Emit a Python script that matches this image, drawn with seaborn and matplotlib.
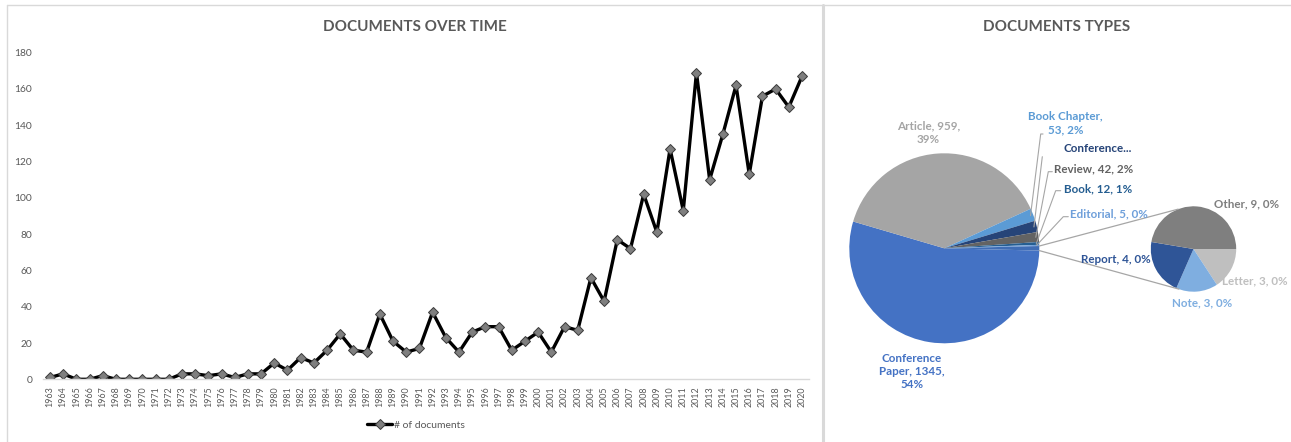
import numpy as np
import pandas as pd
import matplotlib
matplotlib.use("Agg")
import matplotlib.pyplot as plt
import seaborn as sns
from matplotlib.lines import Line2D

# ---- data -----------------------------------------------------------------
years = list(range(1963, 2021))
documents = [1, 3, 0, 0, 2, 0, 0, 0, 0, 0,
             3, 3, 2, 3, 1, 3, 3, 9, 5, 12,
             9, 16, 25, 16, 15, 36, 21, 15, 17, 37,
             23, 15, 26, 29, 29, 16, 21, 26, 15, 29,
             27, 56, 43, 77, 72, 102, 81, 127, 93, 169,
             110, 135, 162, 113, 156, 160, 150, 167]

main_types = ["Conference Paper", "Article", "Book Chapter", "Conference Review",
              "Review", "Book", "Editorial"]
main_counts = [1345, 959, 53, 48, 42, 12, 5]

sub_types = ["Letter", "Note", "Report", "Other"]
sub_counts = [3, 3, 4, 9]

# ---- style ----------------------------------------------------------------
sns.set_theme(style="white")
plt.rcParams["font.family"] = ["Lato", "DejaVu Sans"]

W, H = 1291, 442
DPI = 100
GREY_TXT = "#595959"
BORDER = "#D9D9D9"

fig = plt.figure(figsize=(W / DPI, H / DPI), dpi=DPI)
fig.patch.set_facecolor("white")


def fx(px):
    return px / W


def fy(py):
    return 1 - py / H


# ---- left panel: documents over time --------------------------------------
ax1 = fig.add_axes([fx(43.4), fy(379.3), fx(808.6 - 43.4), (379.3 - 52.7) / H])
df = pd.DataFrame({"year": years, "documents": documents})
sns.lineplot(data=df, x="year", y="documents", ax=ax1, color="black", lw=2.4,
             marker="D", markersize=4.9, markerfacecolor="#7F7F7F",
             markeredgecolor="#3A3A3A", markeredgewidth=0.7,
             label="# of documents", legend=False)
ax1.set_xlim(years[0] - 0.5, years[-1] + 0.5)
ax1.set_ylim(0, 180)
ax1.set_yticks(range(0, 181, 20))
ax1.set_xticks(years)
ax1.set_xticklabels([str(y) for y in years], rotation=90)
ax1.tick_params(axis="x", length=0, pad=5, labelsize=6.4, labelcolor=GREY_TXT)
ax1.tick_params(axis="y", length=0, pad=8, labelsize=7.4, labelcolor=GREY_TXT)
ax1.set_xlabel("")
ax1.set_ylabel("")
for s in ["top", "right", "left"]:
    ax1.spines[s].set_visible(False)
ax1.spines["bottom"].set_color(BORDER)
ax1.spines["bottom"].set_linewidth(1)
ax1.grid(False)

handles, labels = ax1.get_legend_handles_labels()
fig.legend(handles, labels, loc="center", bbox_to_anchor=(fx(416), fy(425)),
           frameon=False, fontsize=7.5, labelcolor=GREY_TXT,
           handlelength=2.4, handletextpad=0.2)

fig.text(fx(415), fy(27), "DOCUMENTS OVER TIME", ha="center", va="center",
         fontsize=11, fontweight="bold", color=GREY_TXT)

# ---- right panel: document types (pie of pie) -----------------------------
ax2 = fig.add_axes([fx(823), 0, fx(W - 823), 1])


def Y(py):
    return H - py


other_total = sum(sub_counts)
pie_values = main_counts + [other_total]
main_colors = ["#4472C4", "#A5A5A5", "#5B9BD5", "#264478", "#636363",
               "#255E91", "#6E9FDA", "#3F6DB5"]
sub_colors = ["#BFBFBF", "#7FAEE0", "#2F5597", "#7F7F7F"]


def rounded_shares(values):
    raw = np.asarray(values, dtype=float) / np.sum(values) * 100
    base = np.floor(raw)
    short = int(round(100 - base.sum()))
    order = np.argsort(-(raw - base), kind="stable")
    base[order[:short]] += 1
    return base.astype(int)


all_names = main_types + sub_types
all_counts = main_counts + sub_counts
pct = dict(zip(all_names, rounded_shares(all_counts)))
cnt = dict(zip(all_names, all_counts))

main_c = (944.3, Y(248.3))
main_r = 95
sub_c = (1193.5, Y(249.0))
sub_r = 42.7

other_deg = other_total / sum(pie_values) * 360
start = -other_deg / 2
wedges, _ = ax2.pie(pie_values, colors=main_colors, startangle=start,
                    counterclock=False, center=main_c, radius=main_r,
                    wedgeprops=dict(linewidth=0))
sub_wedges, _ = ax2.pie(sub_counts, colors=sub_colors, startangle=0,
                        counterclock=False, center=sub_c, radius=sub_r,
                        wedgeprops=dict(linewidth=0))

ax2.set_xlim(823, W)
ax2.set_ylim(0, H)
ax2.set_aspect("equal")
ax2.axis("off")

LINE = "#A6A6A6"


def edge_point(center, r, deg):
    a = np.deg2rad(deg)
    return center[0] + r * np.cos(a), center[1] + r * np.sin(a)


# connectors between the aggregated slice and the secondary pie
p1 = edge_point(main_c, main_r, wedges[-1].theta2)
p2 = edge_point(main_c, main_r, wedges[-1].theta1)
q1 = edge_point(sub_c, sub_r, 111)
q2 = edge_point(sub_c, sub_r, -110)
ax2.plot([p1[0], q1[0]], [p1[1], q1[1]], color=LINE, lw=0.9)
ax2.plot([p2[0], q2[0]], [p2[1], q2[1]], color=LINE, lw=0.9)

label_colors = {
    "Conference Paper": "#4472C4", "Article": "#A5A5A5", "Book Chapter": "#5B9BD5",
    "Conference Review": "#264478", "Review": "#636363", "Book": "#255E91",
    "Editorial": "#6E9FDA", "Letter": "#BFBFBF", "Note": "#7FAEE0",
    "Report": "#2F5597", "Other": "#7F7F7F",
}

FS = 8.4


def label_text(name):
    if name == "Conference Review":
        return "Conference..."
    if name == "Article":
        return f"Article, {cnt[name]},\n{pct[name]}%"
    if name == "Book Chapter":
        return f"Book Chapter,\n{cnt[name]}, {pct[name]}%"
    if name == "Conference Paper":
        return f"Conference\nPaper, {cnt[name]},\n{pct[name]}%"
    return f"{name}, {cnt[name]}, {pct[name]}%"


# (x, y, ha) text anchor, plus optional leader elbow (x_end, y, x_elbow)
placements = {
    "Conference Paper": (911.7, 371.5, "center", None),
    "Article": (928.3, 132.5, "center", None),
    "Book Chapter": (1065.7, 123.0, "center", (1040.7, 134.0, 1043.0)),
    "Conference Review": (1063.3, 149.0, "left", (1042.3, 156.7, 1042.3)),
    "Review": (1054.3, 168.7, "left", (1048.3, 171.7, 1052.3)),
    "Book": (1064.3, 189.0, "left", (1055.7, 190.7, 1060.7)),
    "Editorial": (1070.0, 213.7, "left", (1063.3, 216.7, 1068.3)),
    "Report": (1081.0, 259.3, "left", None),
    "Note": (1202.3, 302.7, "center", None),
    "Letter": (1221.7, 281.0, "left", None),
    "Other": (1214.3, 203.7, "left", None),
}

for name, (tx, ty, ha, leader) in placements.items():
    ax2.text(tx, Y(ty), label_text(name), ha=ha, va="center", fontsize=FS,
             fontweight="bold", color=label_colors[name], linespacing=1.25,
             multialignment="center")
    if leader is not None:
        w = wedges[main_types.index(name)]
        mid = (w.theta1 + w.theta2) / 2
        sx, sy = edge_point(main_c, main_r * 0.97, mid)
        ex, ey, kx = leader
        ax2.plot([sx, ex, kx], [sy, Y(ey), Y(ey)], color=LINE, lw=0.8)

fig.text(fx(1057), fy(27), "DOCUMENTS TYPES", ha="center", va="center",
         fontsize=11, fontweight="bold", color=GREY_TXT)

# ---- panel frames -----------------------------------------------------------
fig.add_artist(Line2D([fx(7), 1], [fy(5), fy(5)], transform=fig.transFigure,
                      color=BORDER, lw=1))
fig.add_artist(Line2D([fx(7), fx(7)], [fy(5), 0], transform=fig.transFigure,
                      color=BORDER, lw=1))
fig.add_artist(Line2D([fx(822.5), fx(822.5)], [fy(5), 0], transform=fig.transFigure,
                      color=BORDER, lw=2.2))

fig.savefig("out.png", dpi=DPI, facecolor="white")
